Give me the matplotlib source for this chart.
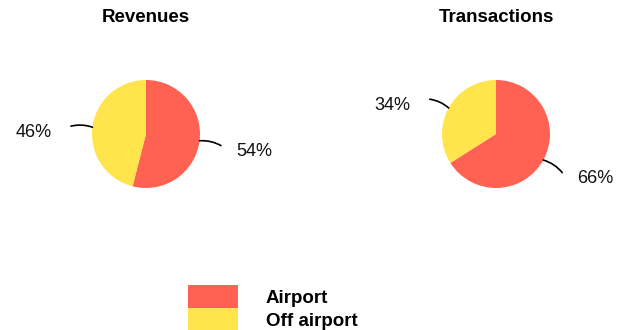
import numpy as np
import matplotlib
matplotlib.use("Agg")
import matplotlib.pyplot as plt
from matplotlib.patches import Patch

plt.rcParams['font.family'] = ['Liberation Sans', 'DejaVu Sans']

categories = ["Airport", "Off airport"]
titles = ["Revenues", "Transactions"]
revenues = [54, 46]
transactions = [66, 34]
colors = ["#FF6152", "#FFE44C"]

W, H = 618, 330
fig = plt.figure(figsize=(W / 100, H / 100), dpi=100)

R = 54.0  # pie radius in pixels
centers = [(146, 134), (496, 134)]
aw, ah = 300, 220

for (cx, cy), title, vals in zip(centers, titles, [revenues, transactions]):
    ax = fig.add_axes([(cx - aw / 2) / W, 1 - (cy + ah / 2) / H, aw / W, ah / H])
    wedges, _ = ax.pie(vals, colors=colors, startangle=90, counterclock=False,
                       radius=1.0, wedgeprops=dict(linewidth=0))
    ax.set_xlim(-aw / 2 / R, aw / 2 / R)
    ax.set_ylim(-ah / 2 / R, ah / 2 / R)
    ax.set_aspect('equal')
    ax.axis('off')
    for w, v in zip(wedges, vals):
        ang = np.deg2rad((w.theta1 + w.theta2) / 2)
        x0, y0 = np.cos(ang), np.sin(ang)
        x1, y1 = 1.4 * np.cos(ang), 1.4 * np.sin(ang) + (-0.03 if x0 < 0 else -0.04)
        rad = 0.15 if x0 > 0 else -0.15
        ax.annotate("", xy=(x0, y0), xytext=(x1, y1),
                    arrowprops=dict(arrowstyle='-', color='black', lw=1.2,
                                    shrinkA=0, shrinkB=0,
                                    connectionstyle=f"arc3,rad={rad}"))
        dx = 0.62 if x0 > 0 else -0.7
        ax.text(x1 + dx, y1 - 0.11, f"{v}%", ha='center', va='center',
                fontsize=13, color='#111111')
    fig.text(cx / W, 1 - 18 / H, title, ha='center', va='center',
             fontsize=13.5, fontweight='bold')

handles = [Patch(facecolor=c, edgecolor='none') for c in colors]
fs = 13.5 * 100 / 72
leg = fig.legend(handles, categories, loc='upper left',
                 bbox_to_anchor=(188 / W, 1 - 285 / H), frameon=False,
                 borderpad=0, borderaxespad=0, labelspacing=0,
                 handlelength=50 / fs, handleheight=1.5,
                 handletextpad=28 / fs, prop=dict(size=13.5, weight='bold'))

fig.savefig("out.png", dpi=100)
